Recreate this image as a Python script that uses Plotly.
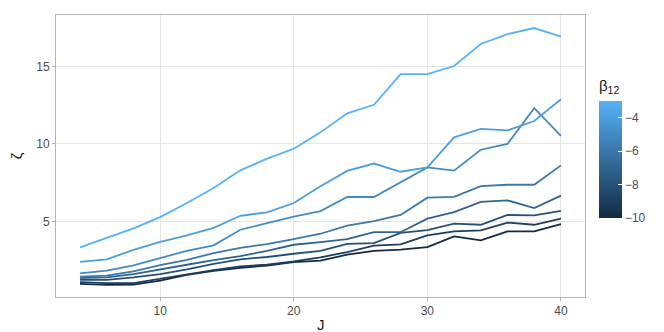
import plotly.graph_objects as go

J = [4, 6, 8, 10, 12, 14, 16, 18, 20, 22, 24, 26, 28, 30, 32, 34, 36, 38, 40]
beta12 = [-3, -4, -5, -6, -7, -8, -9, -10]

zeta_m3 = [3.32, 3.95, 4.55, 5.27, 6.18, 7.15, 8.29, 9.04, 9.68, 10.74, 11.97, 12.52, 14.5, 14.5, 15.02, 16.44, 17.08, 17.47, 16.91]
zeta_m4 = [2.39, 2.55, 3.16, 3.68, 4.10, 4.58, 5.36, 5.58, 6.18, 7.26, 8.25, 8.73, 8.20, 8.48, 10.42, 10.96, 10.87, 11.47, 12.88]
zeta_m5 = [1.65, 1.82, 2.16, 2.63, 3.10, 3.45, 4.46, 4.89, 5.30, 5.66, 6.58, 6.57, 7.50, 8.48, 8.27, 9.62, 10.00, 12.30, 10.52]
zeta_m6 = [1.43, 1.50, 1.77, 2.17, 2.51, 2.95, 3.29, 3.53, 3.85, 4.20, 4.73, 5.02, 5.41, 6.53, 6.58, 7.27, 7.36, 7.36, 8.61]
zeta_m7 = [1.34, 1.39, 1.60, 1.88, 2.20, 2.50, 2.75, 3.10, 3.49, 3.66, 3.86, 4.31, 4.30, 5.17, 5.59, 6.25, 6.35, 5.86, 6.66]
zeta_m8 = [1.23, 1.23, 1.39, 1.60, 1.90, 2.25, 2.55, 2.70, 2.91, 3.10, 3.55, 3.60, 4.25, 4.44, 4.85, 4.78, 5.41, 5.39, 5.67]
zeta_m9 = [1.08, 1.02, 1.02, 1.30, 1.60, 1.85, 2.10, 2.20, 2.42, 2.68, 3.02, 3.43, 3.52, 4.10, 4.35, 4.42, 4.92, 4.78, 5.17]
zeta_m10 = [0.97, 0.90, 0.92, 1.17, 1.55, 1.80, 2.00, 2.15, 2.37, 2.46, 2.85, 3.10, 3.17, 3.34, 4.03, 3.77, 4.35, 4.35, 4.82]

series = [zeta_m3, zeta_m4, zeta_m5, zeta_m6, zeta_m7, zeta_m8, zeta_m9, zeta_m10]

LOW = (0x13, 0x2B, 0x43)
HIGH = (0x56, 0xB1, 0xF7)
bmin, bmax = min(beta12), max(beta12)


def col(b):
    t = (b - bmin) / (bmax - bmin)
    r, g, bl = [round(LOW[i] + (HIGH[i] - LOW[i]) * t) for i in range(3)]
    return f"rgb({r},{g},{bl})"


fig = go.Figure()
for b, ys in sorted(zip(beta12, series)):
    fig.add_trace(go.Scatter(x=J, y=ys, mode="lines",
                             line=dict(color=col(b), width=1.8),
                             showlegend=False, hoverinfo="skip"))

fig.add_trace(go.Scatter(
    x=[None], y=[None], mode="markers",
    marker=dict(color=[bmin, bmax], cmin=bmin, cmax=bmax,
                colorscale=[[0, "#132B43"], [1, "#56B1F7"]],
                showscale=True,
                colorbar=dict(
                    title=dict(text="β<sub>12</sub>", side="top",
                               font=dict(size=15, color="#1a1a1a")),
                    thickness=23, len=141, lenmode="pixels",
                    x=1.0074, xanchor="left", y=0.28, yanchor="bottom",
                    ypad=0,
                    outlinewidth=0, tickvals=[-10, -8, -6, -4],
                    ticktext=["−10", "−8", "−6", "−4"],
                    ticks="inside", ticklen=4, tickcolor="white",
                    tickfont=dict(size=12, color="#4d4d4d"),
                )),
    showlegend=False, hoverinfo="skip"))

axis_common = dict(showgrid=True, gridcolor="#e5e5e5", gridwidth=1,
                   zeroline=False, showline=True, linecolor="#b3b3b3",
                   linewidth=1, mirror=True, ticks="outside", ticklen=3,
                   tickcolor="#b3b3b3", tickfont=dict(size=12, color="#4d4d4d"),
                   automargin=False)

fig.update_xaxes(range=[2.2, 41.8], tickvals=[10, 20, 30, 40], **axis_common)
fig.update_yaxes(range=[0.12, 18.31], tickvals=[5, 10, 15],
                 title=dict(text="ζ", font=dict(size=15, color="#1a1a1a"), standoff=12),
                 **axis_common)

fig.add_annotation(text="J", xref="paper", yref="paper", x=0.5, y=-0.099,
                   xanchor="center", yanchor="middle", showarrow=False,
                   font=dict(size=15, color="#1a1a1a"))

fig.update_layout(width=664, height=332,
                  margin=dict(l=48, r=87, t=7, b=43, autoexpand=False),
                  paper_bgcolor="white", plot_bgcolor="white",
                  font=dict(family="Liberation Sans, Arial, sans-serif"))

fig.write_html("out.html")
